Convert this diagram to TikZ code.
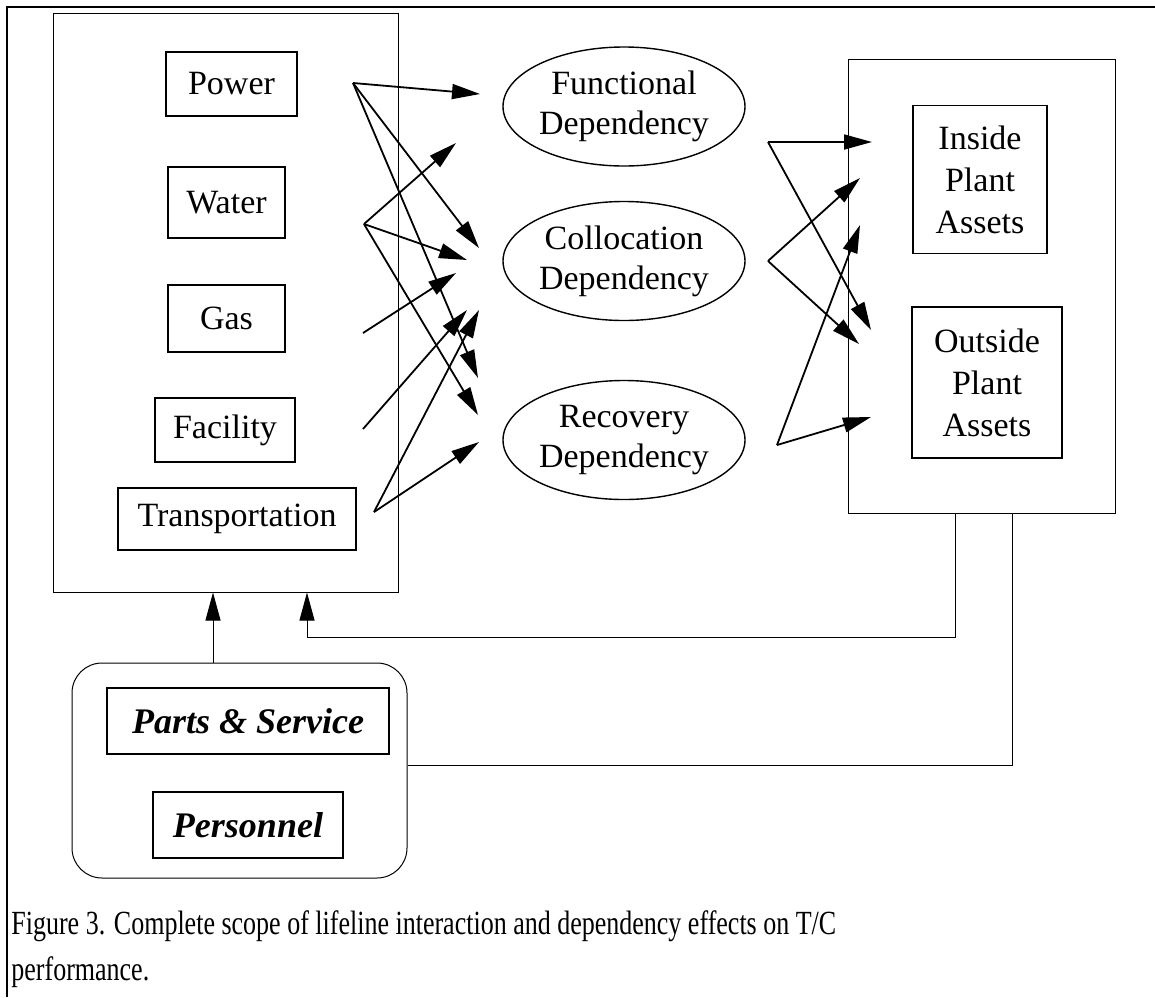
\documentclass[tikz,border=0pt]{standalone}
\usepackage{fontspec}
\setmainfont{Liberation Serif}
\usetikzlibrary{arrows.meta,fit,shapes.geometric}

\tikzset{
  box/.style={draw,line width=0.7pt,inner sep=0pt,align=center,
    font=\fontsize{17}{21}\selectfont},
  dep/.style={draw,ellipse,line width=0.7pt,inner sep=0pt,align=center,
    minimum width=121pt,minimum height=59.5pt,font=\fontsize{17}{20}\selectfont},
  frame/.style={draw,line width=0.5pt,inner sep=0pt},
  arr/.style={-{Triangle[length=14pt,width=7.5pt]},line width=0.9pt},
  link/.style={line width=0.5pt}
}

\begin{document}
\begin{tikzpicture}[x=0.5pt,y=-0.5pt]

  \useasboundingbox (0,0) rectangle (1155,997);
  \draw[line width=1pt] (1155,7) -- (7,7) -- (7,997);

  % containers
  \node[frame,fit={(53,13) (398,592)}] (lifelines) {};
  \node[frame,fit={(848,59) (1115,513)}] (assets) {};
  \node[frame,rounded corners=15pt,fit={(72,663) (407,878)}] (support) {};

  % lifelines
  \begin{scope}[every node/.style={box,minimum height=32pt}]
    \node[minimum width=65.5pt] (power) at (231.5,84) {Power};
    \node[minimum width=58.5pt,minimum height=35.5pt] (water) at (226.5,202.5) {Water};
    \node[minimum width=58.5pt,minimum height=33.5pt] (gas) at (226.5,318.5) {Gas};
    \node[minimum width=70pt] (facility) at (225,430) {Facility};
    \node[minimum width=119pt,minimum height=31pt] (transport) at (237,519) {Transportation};
  \end{scope}

  % dependencies
  \node[dep] (functional) at (624,106.5) {Functional\\Dependency};
  \node[dep] (collocation) at (624,261) {Collocation\\Dependency};
  \node[dep] (recovery) at (624,440) {Recovery\\Dependency};

  % plant
  \node[box,minimum width=67pt,minimum height=74pt] (inside) at (980,179.5) {Inside\\Plant\\Assets};
  \node[box,minimum width=75pt,minimum height=75.5pt] (outside) at (987,382.5) {Outside\\Plant\\Assets};

  % parts and people
  \begin{scope}[every node/.style={box,minimum height=33pt,font=\fontsize{18}{21}\selectfont\bfseries\itshape}]
    \node[minimum width=141pt] (parts) at (248,721) {Parts \& Service};
    \node[minimum width=95pt] (personnel) at (248,825) {Personnel};
  \end{scope}

  % fan points
  \coordinate (pw) at (353,83);
  \coordinate (wt) at (364,224);
  \coordinate (gs) at (363,333);
  \coordinate (fc) at (363,429);
  \coordinate (tr) at (374,512);
  \coordinate (fn) at (768,142);
  \coordinate (cl) at (768,261);
  \coordinate (rc) at (777,445);

  % arrow tips
  \coordinate (fun1) at (480,94);
  \coordinate (fun2) at (456,143);
  \coordinate (col1) at (479,248);
  \coordinate (col2) at (467,260);
  \coordinate (col3) at (456,273);
  \coordinate (col4) at (467,310);
  \coordinate (col5) at (479,310);
  \coordinate (rec1) at (478,378);
  \coordinate (rec2) at (478,415);
  \coordinate (rec3) at (479,442);
  \coordinate (in1) at (872,142);
  \coordinate (in2) at (860,178);
  \coordinate (in3) at (860,225);
  \coordinate (out1) at (871,330);
  \coordinate (out2) at (859,344);
  \coordinate (out3) at (871,417);

  \draw[arr] (pw) -- (fun1);
  \draw[arr] (pw) -- (col1);
  \draw[arr] (pw) -- (rec1);
  \draw[arr] (wt) -- (fun2);
  \draw[arr] (wt) -- (col2);
  \draw[arr] (wt) -- (rec2);
  \draw[arr] (gs) -- (col3);
  \draw[arr] (fc) -- (col4);
  \draw[arr] (tr) -- (col5);
  \draw[arr] (tr) -- (rec3);

  \draw[arr] (fn) -- (in1);
  \draw[arr] (fn) -- (out1);
  \draw[arr] (cl) -- (in2);
  \draw[arr] (cl) -- (out2);
  \draw[arr] (rc) -- (in3);
  \draw[arr] (rc) -- (out3);

  % feedback
  \coordinate (upA) at (213,0);
  \coordinate (upB) at (307,0);
  \coordinate (downA) at (955,637);
  \coordinate (downB) at (1012,765);
  \draw[arr,line width=0.5pt] (support.north -| upA) -- (lifelines.south -| upA);
  \draw[arr,line width=0.5pt] (assets.south -| downA) -- (downA) -| (lifelines.south -| upB);
  \draw[link] (assets.south -| downB) -- (downB) -- (support.east |- downB);

  % caption
  \node[anchor=north west,align=left,inner sep=0pt,font=\fontsize{13}{23}\selectfont]
    (caption) at (11,910) {\scalebox{1}[1.3]{Figure 3. Complete scope of lifeline interaction and dependency effects on T/C}\\
    \scalebox{1}[1.3]{performance.}};

\end{tikzpicture}
\end{document}
